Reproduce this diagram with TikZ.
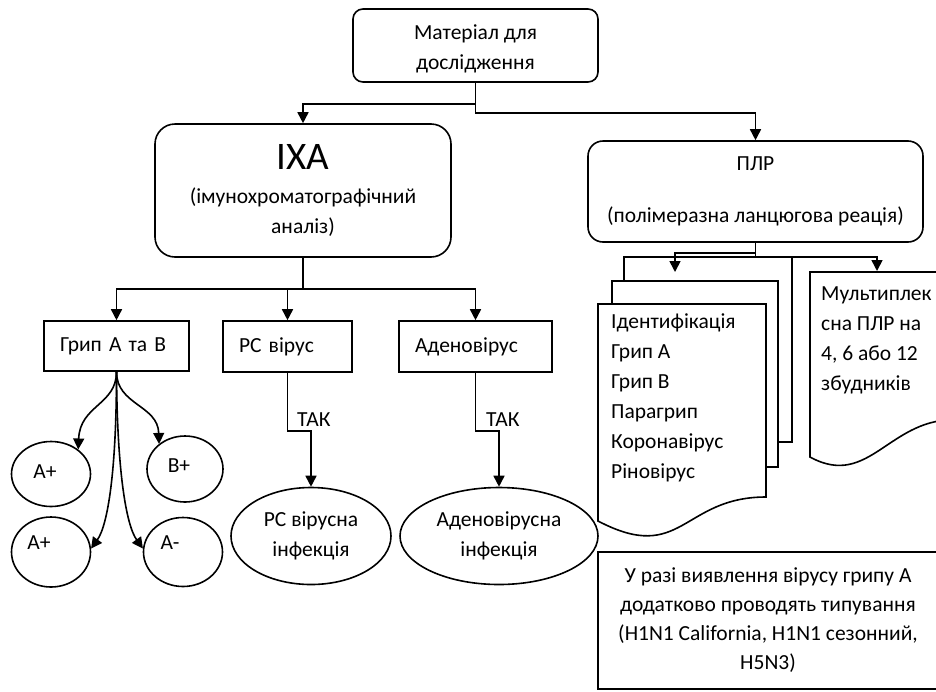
\documentclass[tikz,border=0pt]{standalone}
\usepackage{fontspec}
\setmainfont{Carlito}
\usetikzlibrary{arrows.meta,shapes.geometric}
\begin{document}
\begin{tikzpicture}[x=1pt,y=-1pt,
  every node/.style={font=\fontsize{21.5}{30}\selectfont, inner sep=0pt},
  ln/.style={line width=1.6pt},
  arr/.style={ln, -{Triangle[width=11pt,length=11pt]}},
  rbox/.style={draw, ln, rounded corners=#1, align=center},
  sbox/.style={draw, ln, rectangle, align=left, inner xsep=16pt},
  ell/.style={draw, ln, ellipse, inner sep=0pt, align=center},
  txt/.style={align=left, anchor=north west},
]
\useasboundingbox (0,0) rectangle (936,691);
\clip (0,0) rectangle (936,691);

% main boxes
\node[rbox=10pt, minimum width=245pt, minimum height=73pt] (top) at (475.5,45.5) {\rule{0pt}{22pt}Матеріал для\\дослідження};
\node[rbox=20pt, minimum width=296pt, minimum height=133pt] (ixa) at (303,190.5)
  {{\fontsize{39}{40}\selectfont ІХА}\\[4pt](імунохроматографічний\\аналіз)};
\node[rbox=15pt, minimum width=335pt, minimum height=101pt] (plr) at (755.5,191.5)
  {ПЛР\\[22pt](полімеразна ланцюгова реація)};

% IXA children
\node[sbox, text width=113pt, minimum height=50pt] (grip) at (116.5,346) {Грип А та В};
\node[sbox, text width=97pt, minimum height=51pt] (rs) at (287.5,346.5) {РС вірус};
\node[sbox, text width=121pt, minimum height=51pt] (aden) at (475.5,346.5) {Аденовірус};

% results
\node[ell, minimum width=160pt, minimum height=97pt] (rsell) at (311,536) {РС вірусна\\інфекція};
\node[ell, minimum width=198pt, minimum height=97pt] (adell) at (499,536) {Аденовірусна\\інфекція};

\node[ell, minimum width=79pt, minimum height=65pt] (ap1) at (51,474) {\raisebox{4pt}{A+}\hspace*{12pt}};
\node[ell, minimum width=76pt, minimum height=66pt] (bp) at (185,469) {\raisebox{6pt}{B+}\hspace*{12pt}};
\node[ell, minimum width=79pt, minimum height=70pt] (ap2) at (51,552) {\raisebox{18pt}{A+}\hspace*{24pt}};
\node[ell, minimum width=79pt, minimum height=69pt] (am) at (183,552) {\raisebox{18pt}{A-}\hspace*{26pt}};

% connectors
\draw[arr] (top.south) -- ++(0,21) -| (ixa.north);
\draw[arr] (top.south) -- ++(0,30) -| (plr.north);
\draw[arr] (ixa.south) -- ++(0,31) -| (grip.north);
\draw[arr] (ixa.south) -- ++(0,31) -| (rs.north);
\draw[arr] (ixa.south) -- ++(0,31) -| (aden.north);

\draw[arr] (rs.south) -- ++(0,58) -| (rsell.north);
\draw[arr] (aden.south) -- ++(0,58) -| (adell.north);
\node[anchor=west] (tak1) at (297,420) {ТАК};
\node[anchor=west] (tak2) at (486,420) {ТАК};

\draw[arr] (grip.south) .. controls (116.5,405) and (80,405) .. (ap1.42);
\draw[arr] (grip.south) .. controls (116.5,405) and (158,405) .. (bp.136);
\draw[arr] (grip.south) .. controls (116.5,470) and (108,525) .. (ap2.5);
\draw[arr] (grip.south) .. controls (117,470) and (126,525) .. (am.175);

% PCR documents
\draw[ln] (624,281) -- (624,257) -- (792,257) -- (792,442) -- (778,442);
\draw[ln] (612,304) -- (612,281) -- (778,281) -- (778,467) -- (766,467);
\draw[ln, fill=white] (598,304) -- (766,304) -- (766,497)
  .. controls (682,497) and (682,565) .. (598,521) -- cycle;
\draw[ln, fill=white] (960,420) -- (960,272) -- (810,272) -- (810,457)
  .. controls (870,490) and (890,415) .. (960,420);

\coordinate (docA) at (675,272);
\coordinate (docB) at (877,271);
\draw[arr] (plr.south) -- ++(0,10) -| (docA);
\draw[arr] (plr.south) -- ++(0,14) -| (docB);

\node[txt] (ident) at (611,313) {Ідентифікація\\Грип А\\Грип В\\Парагрип\\Коронавірус\\Ріновірус};
\node[txt] (multi) at (821,286) {Мультиплек\\сна ПЛР на\\4, 6 або 12\\збудників};

% note
\node[draw, ln, minimum width=340pt, minimum height=137pt, align=center,
  font=\fontsize{21.5}{29}\selectfont] (note) at (768,620.5)
  {У разі виявлення вірусу грипу А\\додатково проводять типування\\(H1N1 California, H1N1 сезонний,\\H5N3)};
\end{tikzpicture}
\end{document}
